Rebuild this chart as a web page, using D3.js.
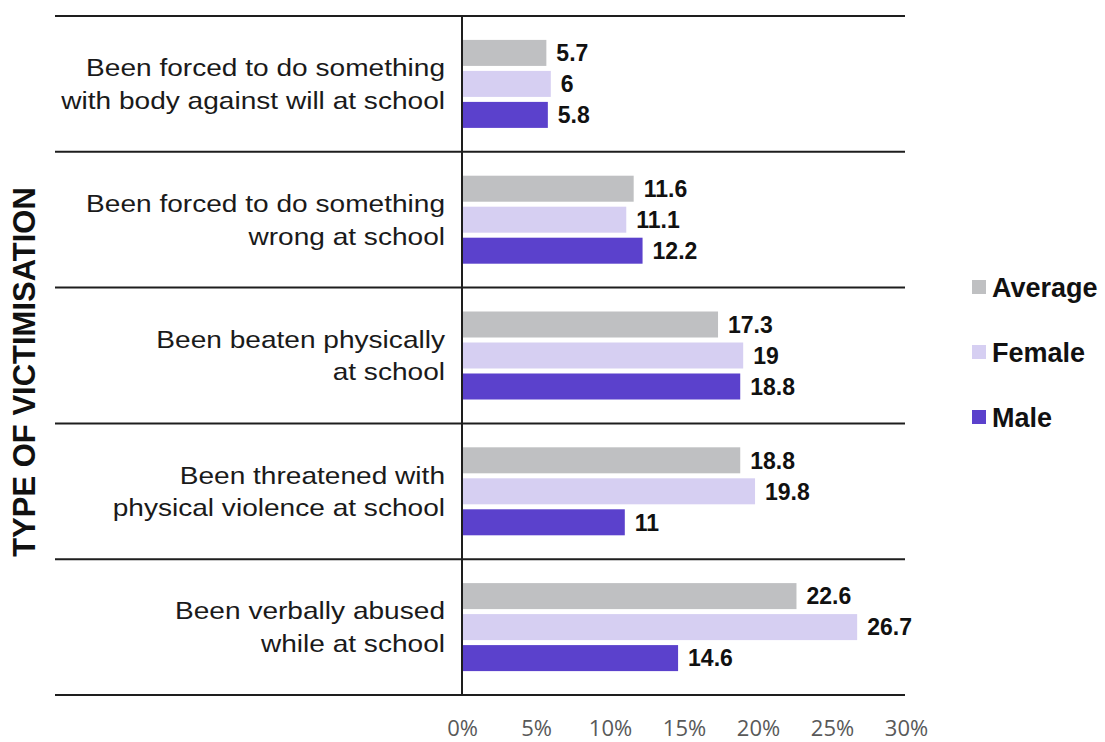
<!DOCTYPE html>
<html>
<head>
<meta charset="utf-8">
<script src="https://cdn.jsdelivr.net/npm/d3@7"></script>
<style>
  html, body { margin: 0; padding: 0; background: #fff; }
  svg { display: block; }
</style>
</head>
<body>
<svg id="chart" width="1105" height="742"></svg>
<script>
const categories = [
  "Been forced to do something with body against will at school",
  "Been forced to do something wrong at school",
  "Been beaten physically at school",
  "Been threatened with physical violence at school",
  "Been verbally abused while at school"
];
const categoryLines = [
  ["Been forced to do something", "with body against will at school"],
  ["Been forced to do something", "wrong at school"],
  ["Been beaten physically", "at school"],
  ["Been threatened with", "physical violence at school"],
  ["Been verbally abused", "while at school"]
];
const seriesNames = ["Average", "Female", "Male"];
const averageValues = [5.7, 11.6, 17.3, 18.8, 22.6];
const femaleValues = [6, 11.1, 19, 19.8, 26.7];
const maleValues = [5.8, 12.2, 18.8, 11, 14.6];
const tickValues = [0, 5, 10, 15, 20, 25, 30];
const tickLabels = ["0%", "5%", "10%", "15%", "20%", "25%", "30%"];
const seriesColors = ["#bfc0c2", "#d6cff2", "#5b41cc"];
const yTitle = "TYPE OF VICTIMISATION";

const seriesValues = [averageValues, femaleValues, maleValues];
const svg = d3.select("#chart");

const x = d3.scaleLinear().domain([0, 30]).range([462, 906]);
const y = d3.scaleBand().domain(categories).range([16, 695]).padding(0);
const inner = d3.scaleBand().domain(seriesNames).range([-44, 44]).paddingInner(0.161).paddingOuter(0);
const color = d3.scaleOrdinal().domain(seriesNames).range(seriesColors);

// separators
const edges = categories.map(c => y(c)).concat([y(categories[categories.length - 1]) + y.bandwidth()]);
svg.append("g").selectAll("line").data(edges).join("line")
  .attr("x1", 55).attr("x2", 905)
  .attr("y1", d => d).attr("y2", d => d)
  .attr("stroke", "#1e1e1e").attr("stroke-width", 2);

// bars
const rows = categories.map((c, i) => ({
  cat: c,
  items: seriesNames.map((s, j) => ({ s, v: seriesValues[j][i] }))
}));
const groups = svg.append("g").selectAll("g").data(rows).join("g")
  .attr("transform", d => `translate(0,${y(d.cat) + y.bandwidth() / 2})`);
groups.selectAll("rect").data(d => d.items).join("rect")
  .attr("x", x(0) + 1)
  .attr("y", d => inner(d.s))
  .attr("width", d => x(d.v) - x(0) - 1)
  .attr("height", inner.bandwidth())
  .attr("fill", d => color(d.s));
groups.selectAll("text").data(d => d.items).join("text")
  .attr("x", d => x(d.v) + 10)
  .attr("y", d => inner(d.s) + inner.bandwidth() / 2)
  .attr("dy", "0.36em")
  .attr("font-family", "'Liberation Sans', Arial, sans-serif")
  .attr("font-weight", "bold")
  .attr("font-size", 23)
  .attr("fill", "#111")
  .text(d => d.v);

// vertical axis line
svg.append("line")
  .attr("x1", x(0)).attr("x2", x(0))
  .attr("y1", 16).attr("y2", 695)
  .attr("stroke", "#1e1e1e").attr("stroke-width", 2);

// category labels
const labG = svg.append("g").selectAll("g").data(categories).join("g")
  .attr("transform", d => `translate(445,${y(d) + y.bandwidth() / 2}) scale(1.17,1)`);
labG.each(function(d, i) {
  const lines = categoryLines[i];
  const lh = 32.5;
  const t = d3.select(this).append("text")
    .attr("text-anchor", "end")
    .attr("font-family", "'Liberation Sans', Arial, sans-serif")
    .attr("font-size", 24)
    .attr("fill", "#1a1a1a");
  lines.forEach((ln, k) => {
    t.append("tspan").attr("x", 0)
      .attr("y", (k - (lines.length - 1) / 2) * lh)
      .attr("dy", "0.36em")
      .text(ln);
  });
});

// x axis
const xAxis = d3.axisBottom(x).tickValues(tickValues)
  .tickFormat((d, i) => tickLabels[i]).tickSize(0).tickPadding(0);
const ax = svg.append("g").attr("transform", "translate(0,720)").call(xAxis);
ax.select(".domain").remove();
ax.selectAll("text")
  .attr("font-family", "'Open Sans', sans-serif")
  .attr("font-size", 22)
  .attr("fill", "#595959");

// y title
svg.append("text")
  .attr("transform", "translate(24,372) rotate(-90)")
  .attr("text-anchor", "middle")
  .attr("dy", "0.36em")
  .attr("font-family", "'Liberation Sans', Arial, sans-serif")
  .attr("font-weight", "bold")
  .attr("font-size", 31)
  .attr("fill", "#111")
  .text(yTitle);

// legend
const leg = svg.append("g").selectAll("g").data(seriesNames).join("g")
  .attr("transform", (d, i) => `translate(972,${287 + i * 65})`);
leg.append("rect").attr("x", 0).attr("y", -7).attr("width", 14).attr("height", 14)
  .attr("fill", d => color(d));
leg.append("text").attr("x", 20).attr("dy", "0.36em")
  .attr("font-family", "'Liberation Sans', Arial, sans-serif")
  .attr("font-weight", "bold").attr("font-size", 27).attr("fill", "#111")
  .text(d => d);
</script>
</body>
</html>
